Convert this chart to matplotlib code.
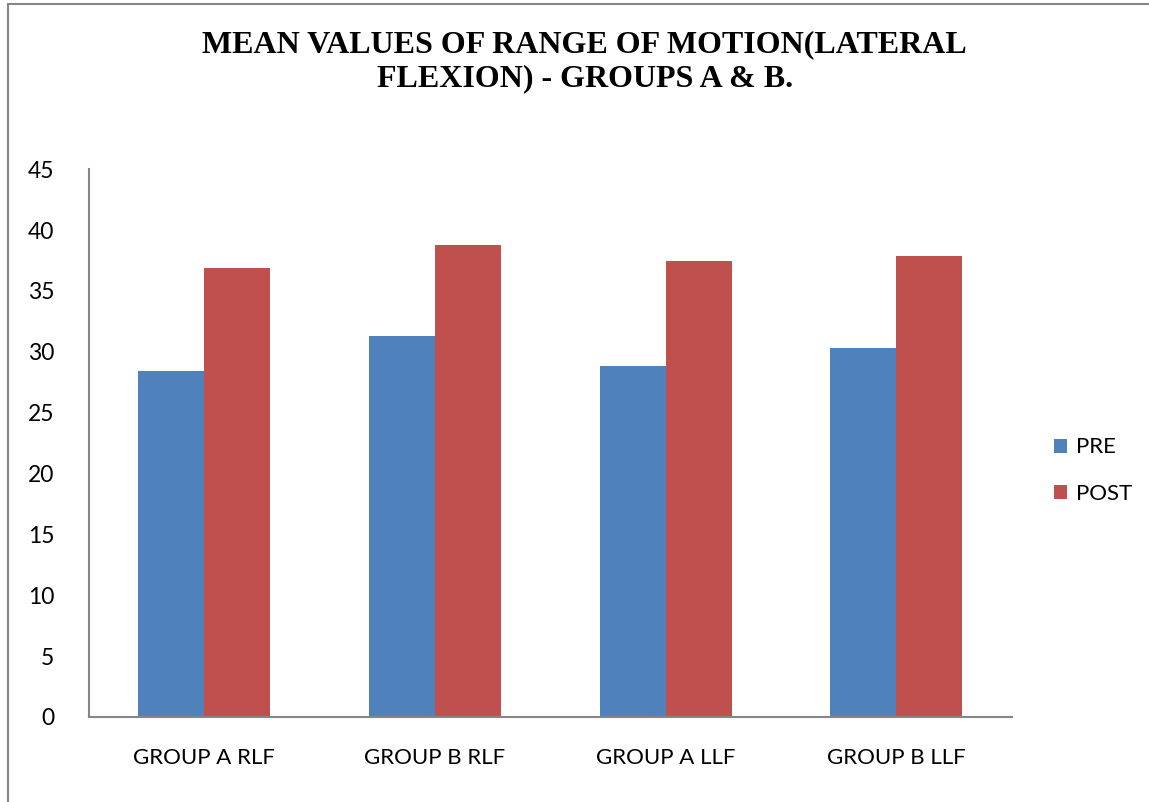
import matplotlib
matplotlib.use("Agg")
import matplotlib.pyplot as plt
import numpy as np
from matplotlib.patches import Patch
from matplotlib.lines import Line2D

categories = ["GROUP A RLF", "GROUP B RLF", "GROUP A LLF", "GROUP B LLF"]
pre_values = [28.4, 31.3, 28.8, 30.35]
post_values = [36.9, 38.8, 37.5, 37.85]
y_ticks = [0, 5, 10, 15, 20, 25, 30, 35, 40, 45]
series_names = ["PRE", "POST"]

pre_color = "#4F81BD"
post_color = "#C0504D"
axis_color = "#868686"
label_font = ["Lato", "DejaVu Sans"]

fig = plt.figure(figsize=(11.49, 8.02), dpi=100)
ax = fig.add_axes([0.0775, 0.106, 0.803, 0.683])

x = np.arange(len(categories))
width = 0.286
ax.bar(x - width / 2, pre_values, width, color=pre_color, edgecolor="none")
ax.bar(x + width / 2, post_values, width, color=post_color, edgecolor="none")

ax.set_xlim(-0.5, len(categories) - 0.5)
ax.set_ylim(0, 45)
ax.set_yticks(y_ticks)
ax.set_yticklabels([str(v) for v in y_ticks], fontsize=16.5, family=label_font)
ax.set_xticks(x)
ax.set_xticklabels(categories, fontsize=16, family=label_font)
ax.tick_params(axis="both", length=0, colors="black")
ax.tick_params(axis="y", pad=25)
ax.tick_params(axis="x", pad=22)

for side in ("top", "right"):
    ax.spines[side].set_visible(False)
for side in ("left", "bottom"):
    ax.spines[side].set_color(axis_color)
    ax.spines[side].set_linewidth(1.5)

fig.text(0.509, 0.944, "MEAN VALUES OF RANGE OF MOTION(LATERAL",
         ha="center", va="center", fontsize=23, fontweight="bold",
         family="Liberation Serif")
fig.text(0.509, 0.902, "FLEXION) - GROUPS A & B.",
         ha="center", va="center", fontsize=23, fontweight="bold",
         family="Liberation Serif")

handles = [Patch(facecolor=pre_color, edgecolor="none"),
           Patch(facecolor=post_color, edgecolor="none")]
leg = fig.legend(handles, series_names, loc="center left",
                 bbox_to_anchor=(0.9, 0.413), frameon=False,
                 prop={"family": label_font, "size": 16},
                 handlelength=0.6, handleheight=0.6, handletextpad=0.4,
                 labelspacing=1.2)

# outer chart frame (left and top edges)
fig.add_artist(Line2D([0.007, 0.007], [0.0, 0.995], transform=fig.transFigure,
                      color=axis_color, linewidth=1.5))
fig.add_artist(Line2D([0.007, 1.0], [0.995, 0.995], transform=fig.transFigure,
                      color=axis_color, linewidth=1.5))

fig.savefig("out.png", dpi=100)
